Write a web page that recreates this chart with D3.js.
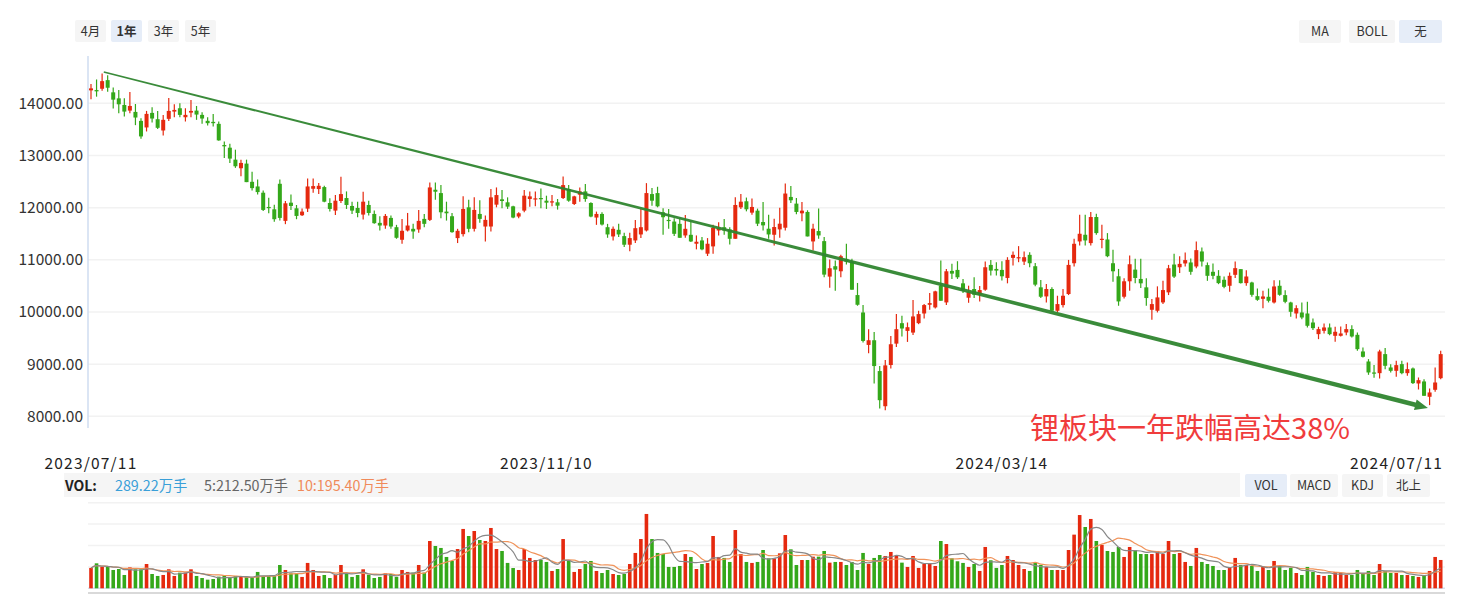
<!DOCTYPE html>
<html>
<head>
<meta charset="utf-8">
<script src="https://cdn.jsdelivr.net/npm/d3@7"></script>
<style>
body { margin: 0; background: #fff; font-family: "Noto Sans CJK SC", "Noto Sans", sans-serif; }
svg { display: block; }
</style>
</head>
<body>
<div id="chart"></div>
<script>
// daily candles, 2023/07/11 - 2024/07/11
var open = [14248,14254,14279,14444,14210,14095,13968,13860,13835,13663,13537,13816,13695,13479,13702,13841,13905,13733,13822,13860,
13778,13664,13644,13606,13200,13149,12920,12755,12844,12495,12406,12286,12013,11968,12457,11746,12095,11987,11854,11981,
12362,12356,12394,12089,11943,12127,12184,12032,11994,11867,12051,11879,11708,11657,11803,11625,11384,11562,11594,11581,
11784,11765,12343,12279,11924,11835,11416,11492,12006,11594,11879,11638,11638,12057,12159,12102,12025,11829,11943,12165,
12171,12184,12133,12108,12102,12184,12356,12070,12248,12311,12089,11810,11879,11625,11448,11575,11454,11289,11371,11486,
11562,12260,12279,11911,11765,11733,11689,11467,11479,11308,11371,11117,11257,11562,11625,11581,11403,12006,12122,11904,
11942,11724,11596,11480,11583,11615,12205,12077,11891,11917,11352,11551,11358,10678,10877,10780,11018,10966,10324,9990,
9368,9458,8867,8193,8983,9393,9785,9637,9605,9785,9971,10138,10087,10504,10183,10787,10806,10549,10273,10440,
10330,10427,10902,10825,10806,10652,11037,11037,10966,11095,10877,10472,10298,10440,10023,10132,10344,10934,11352,11480,
11320,11820,11390,11390,10934,10684,10292,10588,10812,10633,10472,10042,10023,10183,10376,10909,10857,10930,10949,10872,
11160,10898,10770,10693,10617,10502,10712,10821,10553,10565,10303,10252,10291,10182,10502,10323,10182,9971,9990,9971,
9798,9575,9639,9703,9543,9543,9607,9671,9562,9243,9051,8840,8827,9192,8936,8872,9000,8827,8917,8629,
8668,8374,8508,8731];
var high = [14368,14457,14571,14540,14305,14254,14095,14216,13987,13714,13854,13924,13854,13778,14102,13981,14000,13905,14064,13949,
13829,13733,13797,13651,13270,13225,13111,12920,12920,12686,12540,12330,12190,12057,12540,12127,12254,12051,11981,12559,
12559,12470,12419,12178,12241,12590,12311,12114,12114,12305,12133,11943,11835,11879,11848,11670,11784,11898,11689,11956,
11879,12483,12483,12432,12114,11898,11594,12216,12152,12197,12140,11848,12356,12387,12337,12197,12038,11911,12337,12311,
12311,12368,12229,12241,12165,12597,12432,12229,12387,12451,12102,11924,11911,11689,11638,11689,11517,11517,11765,11975,
12470,12375,12400,11987,11975,11797,11797,11860,11752,11467,11435,11416,11670,11721,11784,11625,12197,12260,12193,12173,
11981,12109,11865,11788,12000,12462,12417,12186,12109,11949,11692,11981,11435,11005,10986,11095,11307,11018,10556,10132,
9670,9618,8963,9079,9541,9959,9926,9798,10228,10023,10151,10363,10408,10986,10825,10922,10973,10633,10504,10665,
10500,10966,10998,10953,10973,11050,11159,11262,11159,11146,10941,10613,10536,10472,10311,10440,10998,11403,11865,11865,
11916,11884,11672,11512,11191,10825,10646,11082,11018,11018,10646,10247,10491,10600,10902,11114,11069,11141,11026,11351,
11236,10949,10930,10802,10680,10757,10968,10821,10802,10578,10450,10406,10450,10610,10610,10418,10195,10131,10182,10195,
9875,9716,9779,9779,9716,9722,9767,9747,9607,9319,9096,8981,9275,9307,9000,9064,9064,9032,8936,8744,
8712,8533,8936,9256];
var low = [14076,14127,14241,14222,13898,13810,13746,13810,13581,13321,13460,13632,13505,13384,13663,13733,13733,13651,13733,13683,
13606,13575,13556,13283,12952,12857,12762,12603,12489,12330,12254,11937,11892,11727,11752,11683,11956,11778,11841,11917,
12286,12260,12102,11924,11860,12089,11975,11879,11816,11771,11848,11689,11562,11594,11594,11403,11308,11543,11403,11518,
11625,11746,12152,11797,11752,11518,11321,11448,11530,11543,11708,11352,11543,12006,11987,11975,11797,11797,11911,12019,
12025,11987,11975,12025,11962,12165,12114,12051,12114,12114,11816,11670,11657,11422,11371,11435,11244,11162,11321,11416,
11543,12038,12006,11479,11594,11454,11422,11422,11340,11200,11181,11073,11117,11467,11479,11295,11403,11975,11929,11865,
11647,11563,11403,11275,11422,11563,12090,11872,11737,11448,11178,11403,10665,10466,10408,10665,10909,10427,10119,9413,
9207,8630,8148,8116,8918,9329,9528,9426,9560,9766,9875,10042,10068,10215,10132,10633,10633,10363,10176,10267,
10200,10408,10697,10697,10601,10549,10889,10954,10902,10857,10491,10267,10183,10003,9991,10087,10324,10870,11275,11275,
11275,11480,11223,11050,10581,10119,10260,10408,10549,10459,10119,9849,9991,10151,10324,10652,10748,10872,10712,10840,
10872,10597,10629,10533,10457,10387,10649,10546,10502,10291,10214,10073,10182,10163,10310,10169,9907,9875,9862,9703,
9652,9479,9588,9556,9428,9530,9556,9511,9255,9128,8795,8738,8725,8904,8840,8757,8808,8776,8617,8514,
8393,8214,8470,8712];
var close = [14286,14229,14425,14298,14070,13981,13841,13949,13727,13365,13797,13708,13530,13683,13854,13873,13778,13778,13854,13784,
13708,13619,13619,13289,13175,12940,12793,12857,12489,12374,12298,11956,11994,11778,11803,12083,12032,11841,11924,12406,
12413,12419,12114,11975,12133,12260,12051,11943,11898,12114,11898,11702,11657,11841,11638,11422,11556,11657,11543,11746,
11689,12387,12305,11911,11892,11530,11556,11975,11594,11956,11784,11765,12197,12241,12127,12019,11810,11892,12229,12216,
12178,12171,12095,12121,12038,12432,12133,12216,12311,12165,11829,11879,11676,11486,11594,11486,11289,11416,11606,11625,
12279,12133,12025,11816,11746,11498,11422,11594,11352,11346,11200,11308,11613,11606,11562,11403,12051,12114,11968,12013,
11692,11660,11486,11628,11692,12270,12141,11917,11942,11448,11596,11467,10716,10838,10812,11069,10966,10427,10138,9445,
9458,8963,8309,8976,9381,9670,9683,9708,9914,9959,10132,10170,10395,10215,10780,10735,10665,10408,10392,10330,
10420,10857,10793,10793,10684,10998,11095,11050,11050,10934,10524,10292,10440,10023,10151,10311,10902,11307,11499,11371,
11820,11512,11403,11069,10780,10202,10588,10915,10652,10549,10267,10151,10279,10420,10838,10678,10922,10994,10770,11185,
10968,10693,10693,10553,10482,10693,10840,10553,10680,10329,10233,10297,10214,10489,10329,10195,10003,10073,9894,9735,
9690,9671,9703,9575,9620,9588,9671,9530,9287,9140,8840,8821,9243,8968,8872,8981,8827,8904,8636,8693,
8393,8457,8648,9192];
// volume, 万手
var volume = [208,255,218,218,187,197,136,214,194,194,248,146,126,136,194,126,160,160,194,126,
105,88,95,119,133,105,126,119,116,105,167,126,126,126,238,187,153,153,116,259,
187,126,136,105,136,238,146,116,136,194,136,105,116,153,146,116,187,167,160,238,
160,483,432,412,320,279,401,606,534,585,493,483,616,401,381,259,207,187,401,310,
289,289,269,177,197,503,279,167,197,248,279,177,156,187,146,136,146,248,361,503,
759,503,361,350,218,218,228,350,320,197,248,259,534,320,310,269,595,350,269,259,
269,391,306,306,357,544,398,238,289,289,323,323,381,262,269,269,238,269,187,361,
248,310,340,330,371,330,262,218,330,208,248,255,228,483,452,306,276,259,218,248,
177,422,286,208,238,330,289,238,197,177,259,238,218,187,187,187,391,548,748,626,
708,483,442,381,371,422,320,422,391,350,350,350,381,350,483,350,361,269,228,412,
269,248,228,187,187,208,310,238,238,228,177,218,187,279,228,187,208,156,136,218,
167,136,126,136,167,156,136,136,187,156,177,136,248,177,156,156,136,136,126,116,
136,177,320,289.22];
var volMa5 = 212.50, volMa10 = 195.40;

var priceTicks = [8000, 9000, 10000, 11000, 12000, 13000, 14000];
var dateTicks = [0, 82, 164, 243];
var dateLabels = ["2023/07/11", "2023/11/10", "2024/03/14", "2024/07/11"];
var rangeButtons = ["4月", "1年", "3年", "5年"];
var overlayButtons = ["MA", "BOLL", "无"];
var indicatorButtons = ["VOL", "MACD", "KDJ", "北上"];
// trend arrow: [candle index, price]
var trendFrom = [2.3, 14600];
var trendTo = [240.7, 8160];
var note = "锂板块一年跌幅高达38%";

var width = 1462, height = 594;
var red = "#e5290f", green = "#34a81a";
var left = 88, right = 1445;

var svg = d3.select("#chart").append("svg")
	.attr("width", width)
	.attr("height", height);

var x = d3.scaleLinear().domain([0, close.length - 1]).range([91, 1440.7]);
var y = d3.scaleLinear().domain([8000, 14000]).range([416.3, 103.3]);
var yv = d3.scaleLinear().domain([0, 874]).range([588.3, 502.7]);

// buttons
function button(label, bx, by, bw, bh, active, bold){
	svg.append("rect")
		.attr("x", bx).attr("y", by)
		.attr("width", bw).attr("height", bh)
		.attr("rx", 2)
		.style("fill", active ? "#e6edf8" : "#f5f5f5");
	svg.append("text")
		.attr("x", bx + bw / 2).attr("y", by + bh / 2 + 4.5)
		.attr("text-anchor", "middle")
		.style("font-size", "12.5px")
		.style("font-weight", bold ? "bold" : "normal")
		.style("fill", "#333")
		.text(label);
}
var rbx = [75, 111, 148, 185];
rangeButtons.forEach(function(b, i){ button(b, rbx[i], 20, 31, 22, i == 1, i == 1); });
var obx = [1299, 1349, 1399], obw = [42, 46, 43];
overlayButtons.forEach(function(b, i){ button(b, obx[i], 20, obw[i], 23, i == 2, false); });

// price grid + labels
svg.selectAll(".pgrid").data(priceTicks).enter().append("line")
	.attr("x1", left).attr("x2", right)
	.attr("y1", function(d){ return y(d); })
	.attr("y2", function(d){ return y(d); })
	.style("stroke", "#f2f2f2").style("stroke-width", 1.5);
svg.selectAll(".plabel").data(priceTicks).enter().append("text")
	.attr("x", 83).attr("y", function(d){ return y(d) + 5.5; })
	.attr("text-anchor", "end")
	.style("font-size", "15.5px").style("fill", "#333")
	.text(function(d){ return d3.format(".2f")(d); });
svg.append("line")
	.attr("x1", left).attr("x2", left).attr("y1", 56).attr("y2", 428)
	.style("stroke", "#cfdcf0").style("stroke-width", 1.5);

// candles
var idx = d3.range(close.length);
var candle = svg.append("g").selectAll("g").data(idx).enter().append("g");
candle.append("line")
	.attr("x1", function(i){ return x(i); })
	.attr("x2", function(i){ return x(i); })
	.attr("y1", function(i){ return y(high[i]); })
	.attr("y2", function(i){ return y(low[i]); })
	.style("stroke", function(i){ return close[i] >= open[i] ? red : green; })
	.style("stroke-width", 1.2);
candle.append("rect")
	.attr("x", function(i){ return x(i) - 2; })
	.attr("width", 4)
	.attr("y", function(i){ return y(Math.max(open[i], close[i])); })
	.attr("height", function(i){ return Math.max(1.2, Math.abs(y(open[i]) - y(close[i]))); })
	.style("fill", function(i){ return close[i] >= open[i] ? red : green; });

// trend arrow, tapering from thin to thick
var p0 = [x(trendFrom[0]), y(trendFrom[1])], p1 = [x(trendTo[0]), y(trendTo[1])];
var dx = p1[0] - p0[0], dy = p1[1] - p0[1], len = Math.sqrt(dx * dx + dy * dy);
var ux = dx / len, uy = dy / len, nx = -uy, ny = ux;
var head = 13, w0 = 0.8, w1 = 2.3;
var pb = [p1[0] - ux * head, p1[1] - uy * head];
var pts = [
	[p0[0] + nx * w0, p0[1] + ny * w0],
	[pb[0] + nx * w1, pb[1] + ny * w1],
	[pb[0] + nx * 5.5, pb[1] + ny * 5.5],
	p1,
	[pb[0] - nx * 5.5, pb[1] - ny * 5.5],
	[pb[0] - nx * w1, pb[1] - ny * w1],
	[p0[0] - nx * w0, p0[1] - ny * w0]
];
svg.append("path")
	.attr("d", "M" + pts.join("L") + "Z")
	.style("fill", "#2f852f")
	.style("opacity", 0.95);

svg.append("text")
	.attr("x", 1190).attr("y", 439)
	.attr("text-anchor", "middle")
	.style("font-size", "29px")
	.style("fill", "#f03c3c")
	.text(note);

// date labels
svg.selectAll(".dlabel").data(dateTicks).enter().append("text")
	.attr("x", function(d, i){ return i == dateTicks.length - 1 ? 1443 : x(d); })
	.attr("y", 469)
	.attr("text-anchor", function(d, i){ return i == dateTicks.length - 1 ? "end" : "middle"; })
	.style("font-size", "15.5px").style("letter-spacing", "1.2px").style("fill", "#222")
	.text(function(d, i){ return dateLabels[i]; });

// VOL legend bar
svg.append("rect").attr("x", 64).attr("y", 473).attr("width", 1176).attr("height", 24).style("fill", "#f5f5f5");
svg.append("text").attr("x", 65).attr("y", 490.5).style("font-size", "14px").style("font-weight", "bold").style("fill", "#222").text("VOL:");
var n = volume.length;
function ma(k, i){
	var s = volume.slice(Math.max(0, i - k + 1), i + 1);
	return d3.mean(s);
}
svg.append("text").attr("x", 115).attr("y", 490.5).style("font-size", "14.3px").style("fill", "#3a9fd8")
	.text(d3.format(".2f")(volume[n - 1]) + "万手");
svg.append("text").attr("x", 204).attr("y", 490.5).style("font-size", "14.3px").style("fill", "#666")
	.text("5:" + d3.format(".2f")(volMa5) + "万手");
svg.append("text").attr("x", 297).attr("y", 490.5).style("font-size", "14.3px").style("fill", "#f08a5a")
	.text("10:" + d3.format(".2f")(volMa10) + "万手");
var ibx = [1245, 1290, 1342, 1387], ibw = [42, 48, 41, 43];
indicatorButtons.forEach(function(b, i){ button(b, ibx[i], 474, ibw[i], 23, i == 0, false); });

// volume grid
svg.selectAll(".vgrid").data([0, 1, 2, 3, 4]).enter().append("line")
	.attr("x1", left).attr("x2", right)
	.attr("y1", function(d){ return yv(d * 218.5); })
	.attr("y2", function(d){ return yv(d * 218.5); })
	.style("stroke", function(d){ return d == 0 ? "#d6e0ef" : "#f2f2f2"; })
	.style("stroke-width", 1.5);
svg.append("line").attr("x1", left).attr("x2", right).attr("y1", 593).attr("y2", 593)
	.style("stroke", "#ccc").style("stroke-width", 1.5);

svg.append("g").selectAll("rect").data(idx).enter().append("rect")
	.attr("x", function(i){ return x(i) - 1.8; })
	.attr("width", 3.6)
	.attr("y", function(i){ return yv(volume[i]); })
	.attr("height", function(i){ return yv(0) - yv(volume[i]); })
	.style("fill", function(i){ return close[i] >= open[i] ? red : green; });

var line5 = d3.line().x(function(i){ return x(i); }).y(function(i){ return yv(ma(5, i)); }).curve(d3.curveMonotoneX);
var line10 = d3.line().x(function(i){ return x(i); }).y(function(i){ return yv(ma(10, i)); }).curve(d3.curveMonotoneX);
svg.append("path").attr("d", line10(idx)).style("fill", "none").style("stroke", "#f0935a").style("stroke-width", 1.2);
svg.append("path").attr("d", line5(idx)).style("fill", "none").style("stroke", "#888").style("stroke-width", 1.2);
</script>
</body>
</html>
